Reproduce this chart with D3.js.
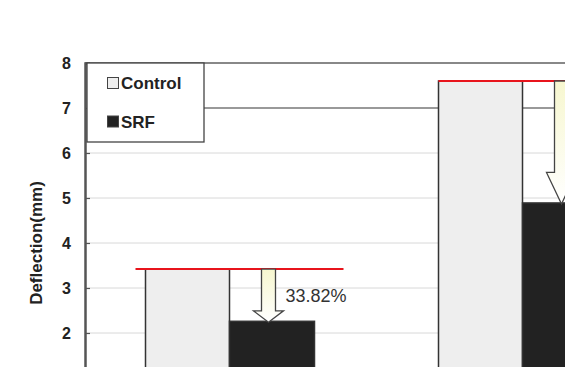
<!DOCTYPE html>
<html><head><meta charset="utf-8">
<script src="https://cdn.jsdelivr.net/npm/d3@7"></script>
<style>body{margin:0;background:#fff}svg{display:block}text{font-family:"Liberation Sans",Arial,sans-serif}</style>
</head><body><svg width="565" height="367"></svg>
<script>
const groups = ["G1", "G2"];
const controlValues = [3.42, 7.6];
const srfValues = [2.26, 4.89];
const reductionLabels = ["33.82%", "35.66%"];
const yTicks = [0, 1, 2, 3, 4, 5, 6, 7, 8];
const seriesNames = ["Control", "SRF"];

const W = 565, H = 367;
const svg = d3.select("svg");
const x = d3.scaleBand().domain(groups).range([83, 669]).paddingInner(0).paddingOuter(0);
const y = d3.scaleLinear().domain([0, 8]).range([423, 63]);
const barW = 84;
const visTicks = yTicks.filter(d => y(d) < H - 8);

const defs = svg.append("defs");
const grad = defs.append("linearGradient").attr("id", "ag").attr("x1", 0).attr("y1", 0).attr("x2", 0).attr("y2", 1);
grad.append("stop").attr("offset", "0%").attr("stop-color", "#f7f7cf");
grad.append("stop").attr("offset", "100%").attr("stop-color", "#ffffff");

// gridlines
svg.append("g").selectAll("line").data(visTicks.filter(d => d > 0 && d < 8 && d !== 7)).join("line")
  .attr("x1", 85).attr("x2", W).attr("y1", d => y(d)).attr("y2", d => y(d))
  .attr("stroke", "#d8d8d8").attr("stroke-width", 1);
// darker line at 7
svg.append("line").attr("x1", 204).attr("x2", W).attr("y1", y(7)).attr("y2", y(7))
  .attr("stroke", "#777").attr("stroke-width", 1.3);
// top frame
svg.append("line").attr("x1", 85).attr("x2", W).attr("y1", y(8)).attr("y2", y(8))
  .attr("stroke", "#888").attr("stroke-width", 2);

// bars
const gBars = svg.append("g");
groups.forEach((g, i) => {
  const cx = x(g) + x.bandwidth() / 2;
  gBars.append("rect").attr("x", cx - barW).attr("y", y(controlValues[i]))
    .attr("width", barW).attr("height", y(0) - y(controlValues[i]))
    .attr("fill", "#eeeeee").attr("stroke", "#333").attr("stroke-width", 1.5);
  gBars.append("rect").attr("x", cx).attr("y", y(srfValues[i]))
    .attr("width", barW + 1).attr("height", y(0) - y(srfValues[i]))
    .attr("fill", "#222").attr("stroke", "#333").attr("stroke-width", 1.5);
});

// red reference lines and arrows
const headFrac = [0.2, 0.25];
groups.forEach((g, i) => {
  const cx = x(g) + x.bandwidth() / 2;
  const yTop = y(controlValues[i]);
  const yTip = y(srfValues[i]);
  svg.append("line").attr("x1", i === 0 ? cx - barW - 10 : cx - barW).attr("x2", cx + barW + 30)
    .attr("y1", yTop).attr("y2", yTop).attr("stroke", "#e8141c").attr("stroke-width", 2);
  const ax = cx + 39, sw = 7, hw = 15;
  const hy = yTip - (yTip - yTop) * headFrac[i];
  const pts = [[ax - sw, yTop], [ax + sw, yTop], [ax + sw, hy], [ax + hw, hy], [ax, yTip + 1], [ax - hw, hy], [ax - sw, hy]];
  svg.append("path").attr("d", "M" + pts.map(p => p.join(",")).join("L") + "Z")
    .attr("fill", "url(#ag)").attr("stroke", "#444").attr("stroke-width", 1.3);
  const tx = ax + 17;
  if (tx < W - 20) {
    svg.append("text").attr("x", tx).attr("y", (yTop + yTip) / 2 + 6.5)
      .attr("font-size", 18).attr("fill", "#333").text(reductionLabels[i]);
  }
});

// y axis
const yAxis = d3.axisRight(y).tickValues(visTicks).tickSize(5).tickFormat(d3.format("d"));
const ga = svg.append("g").attr("transform", "translate(85,0)").call(yAxis);
ga.select(".domain").attr("stroke", "#555").attr("stroke-width", 2.5);
ga.selectAll(".tick line").attr("stroke", "#555").attr("stroke-width", 1.2);
ga.selectAll(".tick text").attr("x", -14).attr("text-anchor", "end").attr("dy", "0.36em")
  .attr("font-size", 16).attr("font-weight", "bold").attr("fill", "#222");

svg.append("text").attr("transform", "translate(42,243) rotate(-90)").attr("text-anchor", "middle")
  .attr("font-size", 17).attr("font-weight", "bold").attr("fill", "#222").text("Deflection(mm)");

// legend
const lg = svg.append("g");
lg.append("rect").attr("x", 87).attr("y", 63).attr("width", 117).attr("height", 79)
  .attr("fill", "#fff").attr("stroke", "#444").attr("stroke-width", 1.3);
const legFill = ["#eeeeee", "#222"];
seriesNames.forEach((s, i) => {
  const ly = 83 + i * 38.5;
  lg.append("rect").attr("x", 107.5).attr("y", ly - 5.5).attr("width", 11).attr("height", 11)
    .attr("fill", legFill[i]).attr("stroke", "#444").attr("stroke-width", 1);
  lg.append("text").attr("x", 121).attr("y", ly + 6).attr("font-size", 17).attr("font-weight", "bold")
    .attr("fill", "#222").text(s);
});
</script></body></html>
